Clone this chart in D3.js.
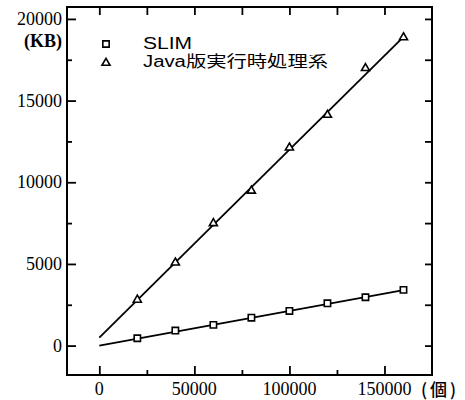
<!DOCTYPE html>
<html>
<head>
<meta charset="utf-8">
<script src="https://cdn.jsdelivr.net/npm/d3@7"></script>
<style>
  html, body { margin: 0; padding: 0; background: #fff; }
  svg { display: block; }
</style>
</head>
<body>
<svg id="chart" width="465" height="400"></svg>
<script>
// ---- data ----
const xValues = [20000, 40000, 60000, 80000, 100000, 120000, 140000, 160000];
const slimValues = [450, 920, 1270, 1710, 2120, 2590, 2960, 3410];
const javaValues = [2800, 5080, 7490, 9480, 12120, 14120, 16980, 18870];
const slimFit = [[0, 0], [160000, 3400]];
const javaFit = [[0, 490], [160000, 18900]];
const xTicks = [0, 50000, 100000, 150000];
const xMinorTicks = [25000, 75000, 125000];
const yTicks = [0, 5000, 10000, 15000, 20000];
const yMinorTicks = [2500, 7500, 12500, 17500];
const seriesNames = ["SLIM", "Java版実行時処理系"];
const yUnit = "(KB)";
const xUnit = "(個)";

// ---- layout ----
const svg = d3.select("#chart");
const mLeft = 67, mRight = 432, mTop = 7, mBottom = 375;
const x = d3.scaleLinear().domain([-17000, 175000]).range([mLeft, mRight]);
const y = d3.scaleLinear().domain([-1800, 20730]).range([mBottom, mTop]);

const serif = "'Liberation Serif', 'DejaVu Serif', 'Times New Roman', serif";
const sans = "'Liberation Sans', Arial, 'Noto Sans CJK JP', sans-serif";

// frame
svg.append("rect")
  .attr("x", mLeft).attr("y", mTop)
  .attr("width", mRight - mLeft).attr("height", mBottom - mTop)
  .attr("fill", "none").attr("stroke", "#000").attr("stroke-width", 2);

// axes with inward ticks
const bottomAxis = d3.axisBottom(x).tickValues(xTicks).tickSize(-9).tickFormat("");
const bottomMinor = d3.axisBottom(x).tickValues(xMinorTicks).tickSize(-5).tickFormat("");
const topAxis = d3.axisTop(x).tickValues(xTicks.concat(xMinorTicks)).tickSize(-8).tickFormat("");
const leftAxis = d3.axisLeft(y).tickValues(yTicks).tickSize(-9).tickFormat("");
const leftMinor = d3.axisLeft(y).tickValues(yMinorTicks).tickSize(-5).tickFormat("");
const rightAxis = d3.axisRight(y).tickValues(yTicks.concat(yMinorTicks)).tickSize(-7).tickFormat("");

function addAxis(axis, tx, ty) {
  const g = svg.append("g").attr("transform", `translate(${tx},${ty})`).call(axis);
  g.select(".domain").remove();
  g.selectAll(".tick line").attr("stroke", "#000").attr("stroke-width", 1.8);
  return g;
}
addAxis(bottomAxis, 0, mBottom);
addAxis(bottomMinor, 0, mBottom);
addAxis(topAxis, 0, mTop);
addAxis(leftAxis, mLeft, 0);
addAxis(leftMinor, mLeft, 0);
addAxis(rightAxis, mRight, 0);

// tick labels
svg.append("g").selectAll("text").data(xTicks).join("text")
  .attr("x", d => x(d)).attr("y", 395)
  .attr("text-anchor", "middle")
  .attr("font-family", serif).attr("font-size", 18)
  .text(d => d);

svg.append("g").selectAll("text").data(yTicks).join("text")
  .attr("x", 62).attr("y", d => y(d) + 6)
  .attr("text-anchor", "end")
  .attr("font-family", serif).attr("font-size", 18)
  .text(d => d);

svg.append("text")
  .attr("x", 62).attr("y", 47)
  .attr("text-anchor", "end")
  .attr("font-family", serif).attr("font-size", 18).attr("font-weight", "bold")
  .text(yUnit);

svg.append("text")
  .attr("x", 421).attr("y", 396)
  .attr("font-family", "'Noto Sans CJK JP', sans-serif").attr("font-size", 17)
  .attr("font-weight", 500)
  .attr("letter-spacing", 3)
  .text(xUnit);

// fit lines
const line = d3.line().x(d => x(d[0])).y(d => y(d[1]));
[slimFit, javaFit].forEach(f => {
  svg.append("path").attr("d", line(f))
    .attr("fill", "none").attr("stroke", "#000").attr("stroke-width", 1.8);
});

// markers
const sq = d3.symbol().type(d3.symbolSquare).size(40);
const tri = d3.symbol().type(d3.symbolTriangle).size(28);

svg.append("g").selectAll("path").data(xValues).join("path")
  .attr("d", sq)
  .attr("transform", (d, i) => `translate(${x(d)},${y(slimValues[i])})`)
  .attr("fill", "#fff").attr("stroke", "#000").attr("stroke-width", 1.6);

svg.append("g").selectAll("path").data(xValues).join("path")
  .attr("d", tri)
  .attr("transform", (d, i) => `translate(${x(d)},${y(javaValues[i])})`)
  .attr("fill", "#fff").attr("stroke", "#000").attr("stroke-width", 1.6);

// legend
svg.append("path").attr("d", sq).attr("transform", "translate(106,44)")
  .attr("fill", "#fff").attr("stroke", "#000").attr("stroke-width", 1.6);
svg.append("path").attr("d", tri).attr("transform", "translate(106,63)")
  .attr("fill", "#fff").attr("stroke", "#000").attr("stroke-width", 1.6);

svg.append("text").attr("x", 143).attr("y", 49)
  .attr("font-family", sans).attr("font-size", 16)
  .attr("textLength", 49).attr("lengthAdjust", "spacingAndGlyphs")
  .text(seriesNames[0]);
svg.append("text").attr("x", 143).attr("y", 67)
  .attr("font-family", sans).attr("font-size", 16)
  .attr("textLength", 185).attr("lengthAdjust", "spacingAndGlyphs")
  .text(seriesNames[1]);
</script>
</body>
</html>
